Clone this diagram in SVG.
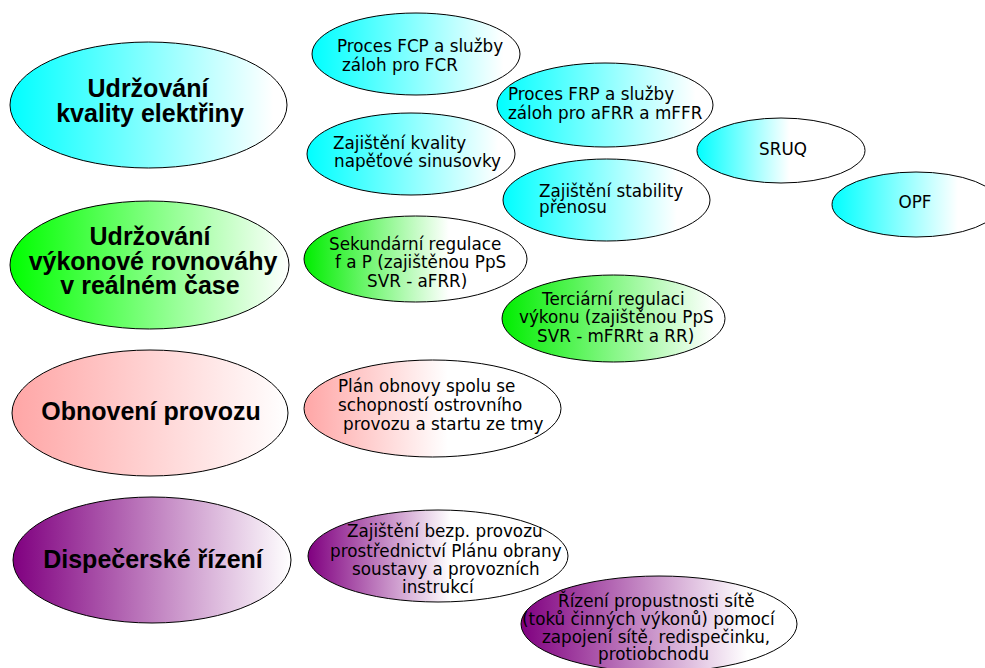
<svg xmlns="http://www.w3.org/2000/svg" width="985" height="668" viewBox="0 0 985 668">
<defs>
<linearGradient id="gCyanBig" x1="0" y1="0" x2="1" y2="0"><stop offset="0" stop-color="#00ffff"/><stop offset="0.95" stop-color="#ffffff"/></linearGradient>
<linearGradient id="gGreenBig" x1="0" y1="0" x2="1" y2="0"><stop offset="0" stop-color="#00ff00"/><stop offset="1" stop-color="#ffffff"/></linearGradient>
<linearGradient id="gPinkBig" x1="0" y1="0" x2="1" y2="0"><stop offset="0" stop-color="#ffa6a6"/><stop offset="1" stop-color="#ffffff"/></linearGradient>
<linearGradient id="gPurpleBig" x1="0" y1="0" x2="1" y2="0"><stop offset="0" stop-color="#800080"/><stop offset="1" stop-color="#ffffff"/></linearGradient>
<linearGradient id="gCyan90" x1="0" y1="0" x2="1" y2="0"><stop offset="0" stop-color="#00ffff"/><stop offset="0.92" stop-color="#ffffff"/></linearGradient>
<linearGradient id="gCyan80" x1="0" y1="0" x2="1" y2="0"><stop offset="0" stop-color="#00ffff"/><stop offset="0.84" stop-color="#ffffff"/></linearGradient>
<linearGradient id="gCyan55" x1="0" y1="0" x2="1" y2="0"><stop offset="0" stop-color="#00ffff"/><stop offset="0.55" stop-color="#ffffff"/></linearGradient>
<linearGradient id="gCyan75" x1="0" y1="0" x2="1" y2="0"><stop offset="0" stop-color="#00ffff"/><stop offset="0.75" stop-color="#ffffff"/></linearGradient>
<linearGradient id="gGreen65" x1="0" y1="0" x2="1" y2="0"><stop offset="0" stop-color="#00ee00"/><stop offset="0.65" stop-color="#ffffff"/></linearGradient>
<linearGradient id="gGreen90" x1="0" y1="0" x2="1" y2="0"><stop offset="0" stop-color="#00ee00"/><stop offset="0.95" stop-color="#ffffff"/></linearGradient>
<linearGradient id="gPink55" x1="0" y1="0" x2="1" y2="0"><stop offset="0" stop-color="#ffa6a6"/><stop offset="0.56" stop-color="#ffffff"/></linearGradient>
<linearGradient id="gPurple55" x1="0" y1="0" x2="1" y2="0"><stop offset="0" stop-color="#800080"/><stop offset="0.55" stop-color="#ffffff"/></linearGradient>
<linearGradient id="gPurple80" x1="0" y1="0" x2="1" y2="0"><stop offset="0" stop-color="#800080"/><stop offset="0.82" stop-color="#ffffff"/></linearGradient>
</defs>
<style>
ellipse { stroke: #000; stroke-width: 1; }
.big { font-family: "Liberation Sans", Arial, sans-serif; font-weight: bold; font-size: 25px; fill: #000; text-anchor: middle; }
.sm { font-family: "DejaVu Sans", sans-serif; font-size: 16.8px; fill: #000; }
.mid { text-anchor: middle; }
</style>
<rect width="985" height="668" fill="#ffffff"/>
<g id="connectors"/>

<g id="kvalita">
<ellipse cx="148.5" cy="105" rx="138.5" ry="63" fill="url(#gCyanBig)"/>
<text class="big" x="148" y="97">Udržování</text>
<text class="big" x="150" y="122">kvality elektřiny</text>
</g>
<g id="rovnovaha">
<ellipse cx="149.5" cy="265" rx="139.5" ry="64" fill="url(#gGreenBig)"/>
<text class="big" x="150" y="245">Udržování</text>
<text class="big" x="153" y="270">výkonové rovnováhy</text>
<text class="big" x="150" y="294">v reálném čase</text>
</g>
<g id="obnoveni">
<ellipse cx="150" cy="413" rx="138" ry="63" fill="url(#gPinkBig)"/>
<text class="big" x="151" y="420">Obnovení provozu</text>
</g>
<g id="dispecerske">
<ellipse cx="152" cy="560" rx="139" ry="63" fill="url(#gPurpleBig)"/>
<text class="big" x="153" y="568">Dispečerské řízení</text>
</g>

<g id="fcp">
<ellipse cx="416" cy="54" rx="104" ry="41" fill="url(#gCyan90)"/>
<text class="sm" x="337" y="52">Proces FCP a služby</text>
<text class="sm" x="342" y="71">záloh pro FCR</text>
</g>
<g id="frp">
<ellipse cx="605" cy="105" rx="108" ry="42" fill="url(#gCyan90)"/>
<text class="sm" x="508" y="100">Proces FRP a služby</text>
<text class="sm" x="508" y="119">záloh pro aFRR a mFFR</text>
</g>
<g id="sinusovka">
<ellipse cx="411" cy="154" rx="104" ry="41" fill="url(#gCyan90)"/>
<text class="sm" x="333" y="149">Zajištění kvality</text>
<text class="sm" x="334" y="167">napěťové sinusovky</text>
</g>
<g id="stabilita">
<ellipse cx="606.5" cy="200" rx="103.5" ry="41" fill="url(#gCyan80)"/>
<text class="sm" x="539" y="197">Zajištění stability</text>
<text class="sm" x="539" y="213">přenosu</text>
</g>
<g id="sruq">
<ellipse cx="781" cy="150.5" rx="84" ry="32.5" fill="url(#gCyan55)"/>
<text class="sm mid" x="783" y="155">SRUQ</text>
</g>
<g id="opf">
<ellipse cx="916" cy="204.5" rx="84" ry="32.5" fill="url(#gCyan75)"/>
<text class="sm mid" x="915" y="208">OPF</text>
</g>
<g id="sekundarni">
<ellipse cx="415.5" cy="259" rx="111.5" ry="43" fill="url(#gGreen65)"/>
<text class="sm" x="329" y="250">Sekundární regulace</text>
<text class="sm" x="335" y="268">f a P (zajištěnou PpS</text>
<text class="sm" x="367" y="287">SVR - aFRR)</text>
</g>
<g id="terciarni">
<ellipse cx="613.5" cy="318.5" rx="111.5" ry="43.5" fill="url(#gGreen90)"/>
<text class="sm" x="542" y="305">Terciární regulaci</text>
<text class="sm" x="519" y="323">výkonu (zajištěnou PpS</text>
<text class="sm" x="537" y="342">SVR - mFRRt a RR)</text>
</g>
<g id="plan-obnovy">
<ellipse cx="432.5" cy="408.5" rx="128.5" ry="48.5" fill="url(#gPink55)"/>
<text class="sm" x="338" y="392">Plán obnovy spolu se</text>
<text class="sm" x="338" y="411">schopností ostrovního</text>
<text class="sm" x="343" y="430">provozu a startu ze tmy</text>
</g>
<g id="bezp-provoz">
<ellipse cx="438" cy="556" rx="130" ry="46" fill="url(#gPurple55)"/>
<text class="sm" x="347" y="537">Zajištění bezp. provozu</text>
<text class="sm" x="330" y="557">prostřednictví Plánu obrany</text>
<text class="sm" x="352" y="575">soustavy a provozních</text>
<text class="sm" x="402" y="593">instrukcí</text>
</g>
<g id="propustnost">
<ellipse cx="659" cy="624" rx="138" ry="48" fill="url(#gPurple80)"/>
<text class="sm" x="558" y="607">Řízení propustnosti sítě</text>
<text class="sm" x="522" y="625">(toků činných výkonů) pomocí</text>
<text class="sm" x="542" y="643">zapojení sítě, redispečinku,</text>
<text class="sm" x="598" y="660">protiobchodu</text>
</g>
</svg>
